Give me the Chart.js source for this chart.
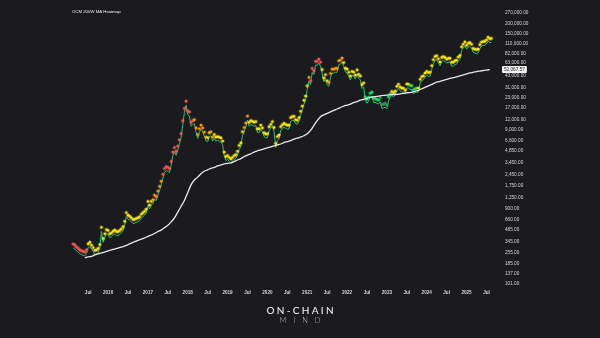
<!DOCTYPE html>
<html><head><meta charset="utf-8">
<script src="https://cdn.jsdelivr.net/npm/chart.js@4.4.1/dist/chart.umd.min.js"></script>
<style>
html,body{margin:0;padding:0;background:#1b1b1f;}
#wrap{position:relative;width:600px;height:338px;overflow:hidden;background:#1b1b1f;}
#c{position:absolute;left:0;top:0;}
#wm1{position:absolute;left:0;width:600px;top:304px;text-align:center;font:500 10px Lato,"Open Sans",sans-serif;letter-spacing:2.3px;padding-left:2.3px;box-sizing:border-box;color:#ededed;line-height:12px;}
#wm2{position:absolute;left:0;width:600px;top:316px;text-align:center;font:300 7.5px Lato,"Open Sans",sans-serif;letter-spacing:7px;padding-left:7px;box-sizing:border-box;color:#b8b8b8;line-height:10px;}
</style></head>
<body><div id="wrap"><canvas id="c" width="600" height="338"></canvas>
<div id="wm1">ON-CHAIN</div><div id="wm2">MIND</div></div>
<script>
// Price: half-monthly closes (1st and 15th of each month), starting 2015-02-15
const priceStart = '2015-02-15';
const price = [
 // 2015 (Feb 15 .. Dec 15)
 290, 280,265, 255,243, 238,232, 230,245, 290,305, 280,260, 240,243, 255,285, 470,340, 390,440,
 // 2016
 430,390, 400,420, 435,415, 415,430, 450,480, 560,720, 670,650, 620,590, 595,610, 620,640, 690,720, 750,800,
 // 2017
 1000,900, 1000,1050, 1200,1150, 1350,1550, 1800,2200, 2600,2750, 2700,2600, 3200,4200, 4800,4300, 5000,6000, 7200,10500, 15000,18500,
 // 2018
 14000,13500, 10000,10500, 10800,8500, 7000,8300, 9200,8500, 7500,6500, 6400,7400, 7600,6500, 7000,6500, 6600,6500, 6350,5800, 4200,3700,
 // 2019
 3800,3600, 3450,3600, 3800,3900, 4300,5100, 5500,7600, 8600,9800, 12000,10000, 10500,10300, 10000,10200, 8300,8300, 9200,8500, 7400,7100,
 // 2020
 7200,8800, 9400,10200, 8600,5400, 6600,6900, 8800,9300, 9700,9400, 9200,9200, 11500,11800, 11900,10800, 10600,11500, 13800,16000, 19000,21500,
 // 2021
 29000,37000, 33500,48000, 45000,59000, 58800,63000, 57500,46500, 36500,40000, 33500,32000, 41500,47000, 47000,48000, 48000,60000, 61000,65000, 57000,48500,
 // 2022
 47000,43000, 38500,44000, 43000,39500, 46000,40500, 38500,30000, 31500,21000, 19500,20800, 23300,24000, 20000,20000, 19400,19200, 20500,16800, 17000,17400,
 // 2023
 16600,21000, 23000,24500, 23500,24800, 28500,30300, 28000,27000, 27000,25500, 30500,30300, 29300,29000, 25800,26600, 27000,27000, 35000,37800, 38700,42000,
 // 2024
 44000,42500, 43000,52000, 62000,68000, 69500,63500, 58000,66000, 67700,66000, 62700,64500, 64500,57500, 57500,60000, 61000,67000, 70000,90000, 97000,104000,
 // 2025 (Jan 1 .. Aug 15)
 94000,100000, 102000,97000, 86000,84000, 83000,84500, 96000,103500, 105000,105500, 110000,119000, 114000,115000
];
// heat level per half-month: r=red, o=orange, y=yellow, g=green, d=dark green
const heatByYear = [
 'r'+'rrrrrrrr'+'yyyyyyyyyyyy',
 'yyyyyyyyyyyyyyyyyyyyyyyy',
 'yy'+'yo'+'oo'+'oo'+'or'+'rrrrrrrrrrrrrr',
 'rrrr'+'oooooooo'+'yy'+'oo'+'yyyyyyyy',
 'yyyyyyyyyy'+'oo'+'oy'+'yyyyyyyyyy',
 'yyyyyyyyyyyyyyyyyyyyyyyy',
 'yo'+'rrrrrr'+'ry'+'yy'+'yo'+'oooooooo'+'yy',
 'yyyyyyyyyy'+'yg'+'gggggggg'+'dddd',
 'dg'+'gy'+'yyyyyyyyyy'+'gggg'+'gy'+'yyyy',
 'yyyyyyyyyyyyyyyyyyyyyyyy',
 'yyyyyyyyyyyyyyyy'
];
const heat = heatByYear.join('').split('');

// 200-week moving average, monthly (1st of month), starting 2015-06
const maStart = '2015-06-01';
const ma200w = [
 217,223,227,236,243,250,257,
 265,273,280,288,296,305,318,332,347,361,374,388,
 405,422,440,466,486,522,560,619,693,821,973,1153,
 1447,1815,2090,2275,2514,2700,2815,2938,3020,3150,3240,3335,
 3400,3450,3580,3740,3900,4130,4310,4493,4710,4890,5030,5176,
 5330,5480,5640,5800,5963,6220,6400,6590,6870,7070,7270,7590,
 8030,8870,10200,11770,13180,13945,14550,15180,15850,16530,17250,18000,
 18510,19040,19870,20440,21330,21940,22570,23210,23530,23880,24220,24570,
 24780,24920,25130,25280,25640,26010,26380,26750,27280,27910,29140,30400,
 31700,33090,34520,36020,37040,38100,39200,40320,41250,42080,43290,44540,
 45820,47140,48100,49170,49880,50580,51300,52067.57
];
const yTicks = [101,137,185,255,345,485,660,900,1250,1750,2450,3450,4850,6600,9000,12000,17000,23000,31000,43000,63000,82000,110000,150000,200000,270000];
const xTicks = [2015.5,2016,2016.5,2017,2017.5,2018,2018.5,2019,2019.5,2020,2020.5,2021,2021.5,2022,2022.5,2023,2023.5,2024,2024.5,2025,2025.5];
const heatColors = {r:'#ff5a5a', o:'#ff9b1a', y:'#ffe81a', g:'#22e36a', d:'#2f9e4f'};

// date helpers: decimal year of a date, and the n-th half-month / month after a start date
const dateToYear = s => { const p = s.split('-').map(Number); return p[0] + (p[1]-1)/12 + (p[2] >= 15 ? 1/24 : 0); };
const pricePts = price.map((v,i)=>({x: dateToYear(priceStart) + i/24, y: v}));
const maPts = ma200w.map((v,i)=>({x: dateToYear(maStart) + i/12, y: v}));

function dotImg(color){
  const c = document.createElement('canvas'); c.width = 6; c.height = 14;
  const g = c.getContext('2d'); g.fillStyle = color;
  g.beginPath(); g.arc(3,3,1.55,0,Math.PI*2); g.fill();
  return c;
}
const imgs = {}; Object.keys(heatColors).forEach(k=>imgs[k]=dotImg(heatColors[k]));

const fmt = v => Number(v).toLocaleString('en-US',{minimumFractionDigits:2,maximumFractionDigits:2});

const overlay = {
  id:'overlay',
  afterDraw(chart){
    const ctx = chart.ctx;
    ctx.save();
    ctx.fillStyle = '#f0f0f0';
    ctx.font = '4.3px Arial, "Liberation Sans", sans-serif';
    ctx.textBaseline = 'middle';
    ctx.fillText('OCM 200W MA Heatmap', 72, 11.7);
    const last = ma200w[ma200w.length-1];
    const y = chart.scales.y.getPixelForValue(last);
    ctx.font = '4.7px Arial, "Liberation Sans", sans-serif';
    const t = fmt(last);
    const w = ctx.measureText(t).width + 4;
    ctx.fillStyle = '#f2f2f2';
    ctx.beginPath(); ctx.roundRect(502, y-3.5, w, 7, 1); ctx.fill();
    ctx.fillStyle = '#1b1b1f';
    ctx.fillText(t, 504, y+0.2);
    ctx.restore();
  }
};

new Chart(document.getElementById('c'), {
  type:'line',
  data:{ datasets:[
    {label:'200W MA', data:maPts, borderColor:'#e9e9e9', borderWidth:1.3, pointRadius:0, cubicInterpolationMode:'monotone', order:0},
    {label:'Price', data:pricePts, borderColor:'#2fbf71', borderWidth:1, pointRadius:2, pointHoverRadius:2,
     pointStyle: c => imgs[heat[c.dataIndex]] || imgs.y, tension:0, order:1}
  ]},
  options:{
    responsive:false, animation:false, devicePixelRatio:1,
    layout:{padding:0},
    plugins:{legend:{display:false}, tooltip:{enabled:false}},
    scales:{
      x:{type:'linear', min:2013.362, max:2025.84,
         grid:{display:false, drawTicks:false}, border:{display:false},
         afterBuildTicks: s => { s.ticks = xTicks.map(v=>({value:v})); },
         afterFit: s => { s.height = 51; },
         ticks:{color:'#d6d6d6', font:{size:4.6, weight:'bold', family:'Arial'}, padding:3, maxRotation:0, autoSkip:false,
           callback: v => Number.isInteger(v) ? String(v) : 'Jul'}},
      y:{type:'logarithmic', position:'right', min:92.8, max:314200,
         grid:{display:false, drawTicks:false}, border:{display:false},
         afterBuildTicks: s => { s.ticks = yTicks.map(v=>({value:v})); },
         afterFit: s => { s.width = 100; },
         ticks:{color:'#d6d6d6', font:{size:4.7, family:'Arial'}, padding:5, autoSkip:false,
           callback: v => fmt(v)}}
    }
  },
  plugins:[overlay]
});
</script></body></html>
